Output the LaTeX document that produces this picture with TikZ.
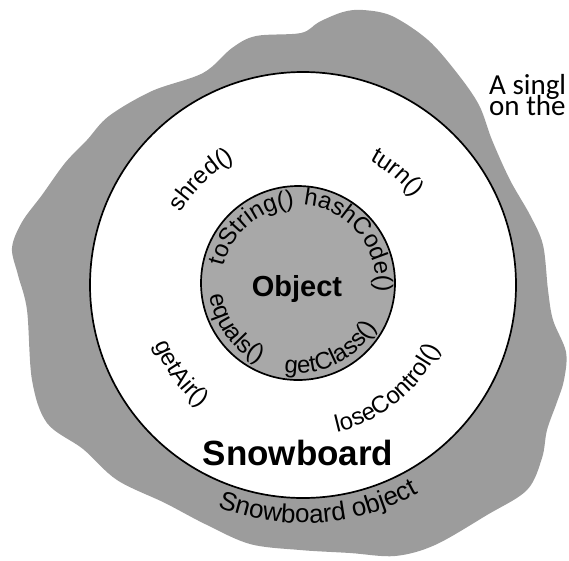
\documentclass[tikz,border=0pt]{standalone}
\usepackage{fontspec}
\setmainfont{Liberation Sans}
\newfontfamily\handfont{Carlito}
\usetikzlibrary{decorations.text}
\definecolor{blobGray}{HTML}{9C9C9C}
\definecolor{coreGray}{HTML}{A8A8A8}
\newcommand\methodfont{\fontsize{24}{24}\selectfont}
\newcommand\bigbold{\fontsize{35}{35}\selectfont\bfseries}
\tikzset{
  ringtext/.style={decorate, decoration={text along path, text align=center, text={|\methodfont|#1}}},
  rimtext/.style={decorate, decoration={text along path, text align=center, text={|\fontsize{26}{26}\selectfont|#1}}},
}

\begin{document}
\begin{tikzpicture}[x=1pt, y=1pt]
        \useasboundingbox (0,0) rectangle (569,-560);
        \coordinate (board) at (303,-285);
        \coordinate (core) at (298,-283);
        % the heap blob
        \fill[blobGray] plot[smooth cycle, tension=0.55] coordinates {
          (363,-10) (392,-16) (428,-40) (457,-73) (479,-105) (492,-140) (510,-180)
          (530,-215) (543,-245) (548,-290) (553,-320) (566,-352) (564,-380) (557,-402)
          (547,-430) (542,-458) (527,-490) (487,-515) (435,-545) (395,-556) (350,-553)
          (300,-550) (250,-544) (205,-524) (165,-503) (117,-480) (83,-449) (47,-423)
          (32,-380) (27,-310) (18,-275) (12,-248) (22,-222) (42,-195) (65,-163)
          (87,-140) (109,-116) (152,-91) (203,-73) (232,-48) (256,-36) (301,-33)
          (319,-22) (343,-12)};
        % snowboard part and object core
        \draw[line width=1.7pt, fill=white] (board) circle (213);
        \draw[line width=1.7pt, fill=coreGray] (core) circle (97);
        \node[font=\fontsize{29}{29}\selectfont\bfseries, inner sep=0, anchor=base] (objname) at (297,-296) {Object};
        \node[font=\bigbold, inner sep=0, anchor=base] (boardname) at (298,-465) {Snowboard};
        % methods of Object
        \path[ringtext=toString()] ([shift={(core)}]200:76) arc[start angle=200, end angle=60, radius=76];
        \path[ringtext=hashCode()] ([shift={(core)}]115:78) arc[start angle=115, end angle=-35, radius=78];
        \path[ringtext=equals()] ([shift={(core)}]146:89) arc[start angle=146, end angle=286, radius=89];
        \path[ringtext=getClass()] ([shift={(core)}]226:90) arc[start angle=226, end angle=366, radius=90];
        % methods of Snowboard
        \path[ringtext=shred()] ([shift={(board)}]184:142) arc[start angle=184, end angle=84, radius=142];
        \path[ringtext=turn()] ([shift={(board)}]100:141) arc[start angle=100, end angle=0, radius=141];
        \path[ringtext=getAir()] ([shift={(board)}]166:160) arc[start angle=166, end angle=266, radius=160];
        \path[ringtext=loseControl()] ([shift={(board)}]259:151) arc[start angle=259, end angle=359, radius=151];
        \path[rimtext=Snowboard object] ([shift={(board)}]224:238) arc[start angle=224, end angle=324, radius=238];
        % side note, cut off by the page edge
        \node[font=\handfont\fontsize{29}{29}\selectfont, inner sep=0, anchor=base west] (note1) at (489,-94) {A singl};
        \node[font=\handfont\fontsize{29}{29}\selectfont, inner sep=0, anchor=base west] (note2) at (489,-115) {on the};
      \end{tikzpicture}
\end{document}
